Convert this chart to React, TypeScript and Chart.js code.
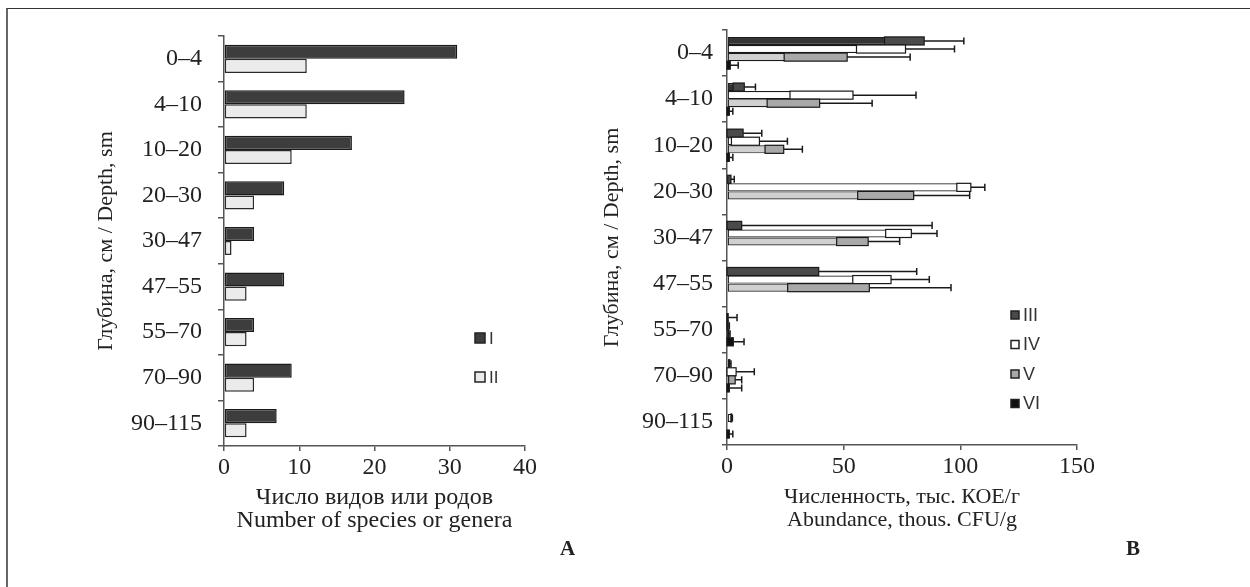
import React, { useEffect, useRef } from 'react';
import { Chart, registerables } from 'chart.js';

Chart.register(...registerables);

// ---------- data ----------
const depthLabels = ['0–4', '4–10', '10–20', '20–30', '30–47', '47–55', '55–70', '70–90', '90–115'];

// Panel A: number of species or genera
const speciesI = [31, 24, 17, 8, 4, 8, 4, 9, 7];
const speciesII = [11, 11, 9, 4, 1, 3, 3, 4, 3];
const speciesTickStep = 10;
const speciesMax = 40;

// Panel B: abundance, thous. CFU/g (mean and SD)
const abundIII = [84.5, 7.4, 6.9, 1.7, 6.3, 39.3, 0.5, 1.2, 0];
const sdIII = [17, 4.8, 8, 1.4, 81.6, 42, 3.8, 0.5, 0];
const abundIV = [76.5, 54, 13.9, 104.5, 79, 70.3, 0.5, 3.9, 2];
const sdIV = [21, 27, 12, 6, 11, 16.4, 0.5, 7.8, 0.3];
const abundV = [51.5, 39.7, 24.3, 80, 60.5, 61, 0.8, 3.5, 0];
const sdV = [27, 22.5, 8, 24, 13.5, 35, 0.5, 2.8, 0];
const abundVI = [1.4, 1, 1, 0, 0, 0, 2.7, 1, 1];
const sdVI = [3.4, 1.5, 1.5, 0, 0, 0, 4.6, 5.3, 1.5];
const abundTickStep = 50;
const abundMax = 150;

// ---------- styles ----------
const serif = "'Liberation Serif', 'Times New Roman', serif";
const sans = "'Liberation Sans', Arial, sans-serif";
const axisColor = '#555';
const textColor = '#222';
const tickFont = { family: serif, size: 24 };
const yTitleFont = { family: serif, size: 22, lineHeight: 0.95 };
const xTitleFontA = { family: serif, size: 24, lineHeight: 0.96 };
const xTitleFontB = { family: serif, size: 22, lineHeight: 1.05 };

const errorPlugin = {
  id: 'errBoxes',
  afterDatasetsDraw(chart: any) {
    const ctx = chart.ctx;
    const xs = chart.scales.x;
    chart.data.datasets.forEach((ds: any, i: number) => {
      if (!ds.sd) return;
      const meta = chart.getDatasetMeta(i);
      meta.data.forEach((el: any, j: number) => {
        const mean = ds.data[j];
        const sd = ds.sd[j];
        if (!mean && !sd) return;
        const { x, y, height } = el.getProps(['x', 'y', 'height'], true);
        const h = height;
        const top = y - h / 2;
        const lowPx = xs.getPixelForValue(Math.max(0, mean - sd));
        const highPx = xs.getPixelForValue(mean + sd);
        ctx.save();
        if (sd > 0 && x - lowPx > 0.5) {
          ctx.fillStyle = ds.boxColor;
          ctx.fillRect(lowPx, top, x - lowPx, h);
          ctx.strokeStyle = '#1a1a1a';
          ctx.lineWidth = 1.2;
          ctx.strokeRect(lowPx, top, x - lowPx, h);
        }
        if (sd > 0) {
          ctx.beginPath();
          ctx.moveTo(x, y);
          ctx.lineTo(highPx, y);
          ctx.moveTo(highPx, top + 0.5);
          ctx.lineTo(highPx, top + h - 0.5);
          ctx.lineWidth = 1.5;
          ctx.strokeStyle = '#1a1a1a';
          ctx.stroke();
        }
        ctx.restore();
      });
    });
  },
};

function makeLegendPlugin(id: string, x: number, ys: number[], box: number, fontSize: number) {
  return {
    id,
    afterDraw(chart: any) {
      const ctx = chart.ctx;
      ctx.save();
      chart.data.datasets.forEach((ds: any, i: number) => {
        const y = ys[i];
        ctx.fillStyle = ds.legendColor || ds.backgroundColor;
        ctx.fillRect(x, y - box / 2, box, box);
        ctx.strokeStyle = '#222';
        ctx.lineWidth = 1.5;
        ctx.strokeRect(x, y - box / 2, box, box);
        ctx.fillStyle = '#333';
        ctx.font = `${fontSize}px ${sans}`;
        ctx.textBaseline = 'middle';
        ctx.textAlign = 'left';
        ctx.fillText(ds.label, x + box + 4, y + 1);
      });
      ctx.restore();
    },
  };
}

function axisCommon(tickLength: number) {
  return {
    grid: {
      drawOnChartArea: false,
      drawTicks: true,
      tickLength,
      color: axisColor,
      tickColor: axisColor,
      lineWidth: 1.5,
    },
    border: { display: true, color: axisColor, width: 1.5 },
  };
}

function buildConfigA() {
  return {
    type: 'bar',
    data: {
      labels: depthLabels,
      datasets: [
        {
          label: 'I', data: speciesI, backgroundColor: '#3d3d3d', borderColor: '#1a1a1a',
          borderWidth: 1.5, borderSkipped: false, categoryPercentage: 0.62, barPercentage: 1,
        },
        {
          label: 'II', data: speciesII, backgroundColor: '#ebebeb', borderColor: '#2a2a2a',
          borderWidth: 1.5, borderSkipped: false, categoryPercentage: 0.62, barPercentage: 1,
        },
      ],
    },
    options: {
      indexAxis: 'y',
      responsive: false,
      animation: false,
      layout: { padding: { left: 96, top: 36, right: 75, bottom: 54.5 } },
      plugins: { legend: { display: false }, tooltip: { enabled: false } },
      scales: {
        x: {
          min: 0, max: speciesMax,
          ticks: { stepSize: speciesTickStep, font: tickFont, color: textColor, padding: 2 },
          ...axisCommon(5),
          title: {
            display: true, text: ['Число видов или родов', 'Number of species or genera'],
            font: xTitleFontA, color: textColor, padding: 0,
          },
          afterFit: (s: any) => { s.height = 86.5; },
        },
        y: {
          ticks: { font: tickFont, color: textColor, padding: 16, autoSkip: false },
          ...axisCommon(6),
          title: {
            display: true, text: 'Глубина, см / Depth, sm',
            font: yTitleFont, color: textColor, padding: 0,
          },
          afterFit: (s: any) => { s.width = 128; },
        },
      },
    },
    plugins: [makeLegendPlugin('legA', 475, [338, 377], 10, 17)],
  };
}

function buildConfigB() {
  const mk = (label: string, data: number[], sd: number[], bg: string, box: string) => ({
    label, data, sd, backgroundColor: bg, boxColor: box, legendColor: box,
    borderColor: '#1a1a1a', borderWidth: 1.2, borderSkipped: false,
    categoryPercentage: 0.7, barPercentage: 1,
  });
  return {
    type: 'bar',
    data: {
      labels: depthLabels,
      datasets: [
        mk('III', abundIII, sdIII, '#353535', '#4a4a4a'),
        mk('IV', abundIV, sdIV, '#ffffff', '#ffffff'),
        mk('V', abundV, sdV, '#d0d0d0', '#a8a8a8'),
        mk('VI', abundVI, sdVI, '#111111', '#111111'),
      ],
    },
    options: {
      indexAxis: 'y',
      responsive: false,
      animation: false,
      layout: { padding: { left: 1.5, top: 30, right: 173, bottom: 55.5 } },
      plugins: { legend: { display: false }, tooltip: { enabled: false } },
      scales: {
        x: {
          min: 0, max: abundMax,
          ticks: { stepSize: abundTickStep, font: tickFont, color: textColor, padding: 2 },
          ...axisCommon(5),
          title: {
            display: true, text: ['Численность, тыс. КОЕ/г', 'Abundance, thous. CFU/g'],
            font: xTitleFontB, color: textColor, padding: 0,
          },
          afterFit: (s: any) => { s.height = 86.5; },
        },
        y: {
          ticks: { font: tickFont, color: textColor, padding: 9, autoSkip: false },
          ...axisCommon(5),
          title: {
            display: true, text: 'Глубина, см / Depth, sm',
            font: yTitleFont, color: textColor, padding: 0,
          },
          afterFit: (s: any) => { s.width = 125.5; },
        },
      },
    },
    plugins: [errorPlugin, makeLegendPlugin('legB', 411, [315, 344.5, 374, 403.5], 8, 18)],
  };
}

function ChartCanvas({ build, width, height, left }: any) {
  const ref = useRef<HTMLCanvasElement>(null);
  useEffect(() => {
    if (!ref.current) return;
    const chart = new Chart(ref.current, build());
    return () => chart.destroy();
  }, []);
  return (
    <canvas
      ref={ref}
      width={width}
      height={height}
      style={{ position: 'absolute', left, top: 0, width, height }}
    />
  );
}

export default function App() {
  return (
    <div style={{ position: 'fixed', left: 0, top: 0, width: 1250, height: 587, background: '#fff', overflow: 'hidden' }}>
      <div style={{ position: 'absolute', left: 6, top: 8, width: 1250, height: 600, borderTop: '1px solid #333', borderLeft: '2px solid #666' }} />
      <ChartCanvas build={buildConfigA} width={600} height={587} left={0} />
      <ChartCanvas build={buildConfigB} width={650} height={587} left={600} />
      <span style={{ position: 'absolute', left: 560, top: 536, fontFamily: serif, fontWeight: 'bold', fontSize: 21, color: '#222' }}>A</span>
      <span style={{ position: 'absolute', left: 1126, top: 536, fontFamily: serif, fontWeight: 'bold', fontSize: 21, color: '#222' }}>B</span>
    </div>
  );
}
